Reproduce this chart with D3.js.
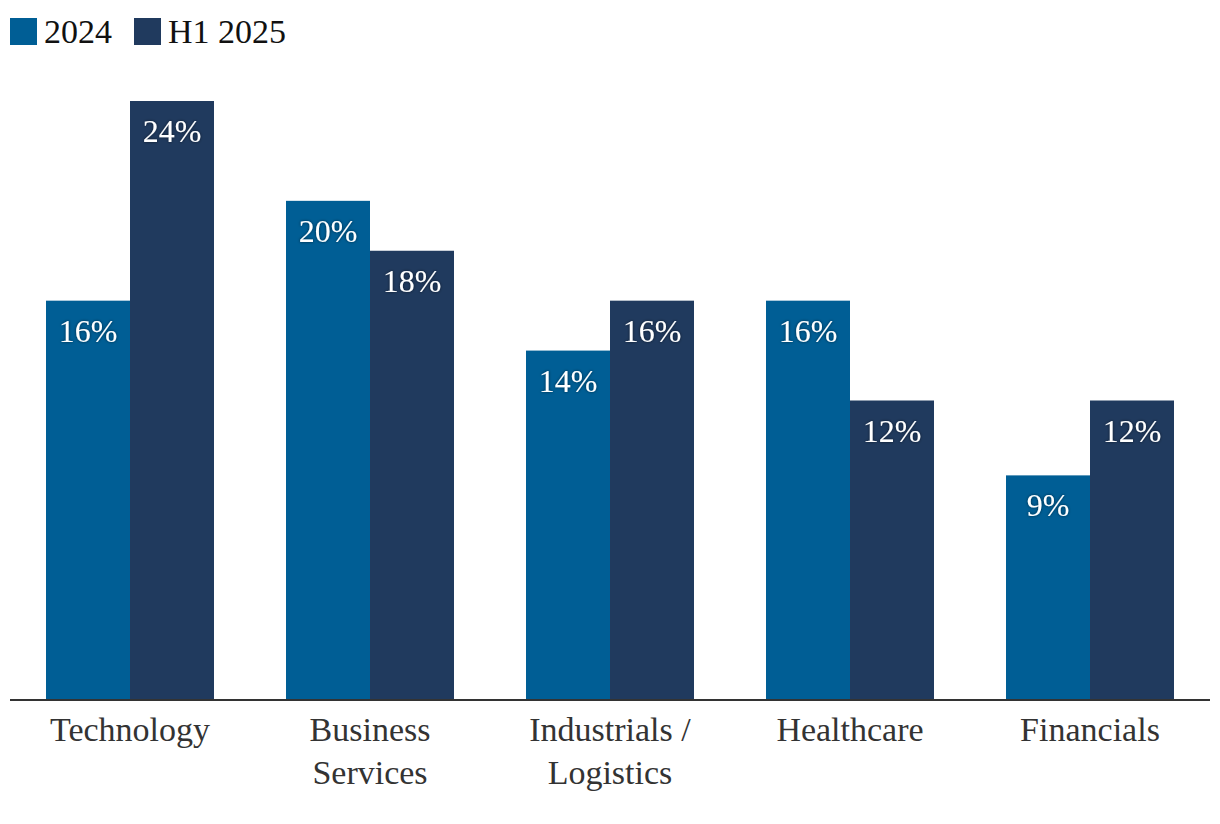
<html><head>
<script src="https://d3js.org/d3.v7.min.js" charset="utf-8"></script>
</head>
<body style="margin:0; background:white">
<div id="chart"></div>
<script>
// data
var categories = [["Technology"], ["Business", "Services"], ["Industrials /", "Logistics"], ["Healthcare"], ["Financials"]];
var seriesNames = ["2024", "H1 2025"];
var values2024 = [16, 20, 14, 16, 9];
var valuesH1 = [24, 18, 16, 12, 12];
var colors = ["#005e95", "#203a5e"];

var width = 1220, height = 824;
var font = "'Liberation Serif', 'Times New Roman', serif";
var svg = d3.select("#chart").append("svg")
  .attr("width", width)
  .attr("height", height);

var x0 = d3.scaleBand()
  .domain(d3.range(categories.length))
  .range([10, 1210])
  .paddingInner(0.3)
  .paddingOuter(0.15);

var x1 = d3.scaleBand()
  .domain([0, 1])
  .range([0, x0.bandwidth()]);

var y = d3.scaleLinear()
  .domain([0, 24])
  .range([700, 101]);

var series = [values2024, valuesH1];

// soft shadow behind the white value labels
var defs = svg.append("defs");
var f = defs.append("filter").attr("id", "shadow")
  .attr("x", "-20%").attr("y", "-20%").attr("width", "140%").attr("height", "140%");
f.append("feDropShadow")
  .attr("dx", 0).attr("dy", 0)
  .attr("stdDeviation", 1.5)
  .attr("flood-color", "#000")
  .attr("flood-opacity", 0.6);

// bars
series.forEach(function(vals, s) {
  var g = svg.append("g");
  g.selectAll("rect")
    .data(vals)
    .enter().append("rect")
    .attr("x", function(d, i) { return x0(i) + x1(s); })
    .attr("y", function(d) { return y(d); })
    .attr("width", x1.bandwidth())
    .attr("height", function(d) { return y(0) - y(d); })
    .attr("fill", colors[s]);
  g.selectAll("text")
    .data(vals)
    .enter().append("text")
    .attr("x", function(d, i) { return x0(i) + x1(s) + x1.bandwidth() / 2; })
    .attr("y", function(d) { return y(d) + 41; })
    .attr("text-anchor", "middle")
    .style("font-family", font)
    .style("font-size", "32px")
    .attr("fill", "white")
    .attr("filter", "url(#shadow)")
    .text(function(d) { return d + "%"; });
});

// baseline
svg.append("line")
  .attr("x1", 10).attr("x2", 1210)
  .attr("y1", y(0)).attr("y2", y(0))
  .style("stroke", "#333")
  .style("stroke-width", 2);

// category labels
var cats = svg.append("g").selectAll("text")
  .data(categories)
  .enter().append("text")
  .attr("x", function(d, i) { return x0(i) + x0.bandwidth() / 2; })
  .attr("y", 741)
  .attr("text-anchor", "middle")
  .style("font-family", font)
  .style("font-size", "34px")
  .attr("fill", "#333");
cats.selectAll("tspan")
  .data(function(d) { return d; })
  .enter().append("tspan")
  .attr("x", function() { return d3.select(this.parentNode).attr("x"); })
  .attr("dy", function(d, j) { return j == 0 ? 0 : 43; })
  .style("font-family", font)
  .text(function(d) { return d; });

// legend
var legX = [10, 134];
seriesNames.forEach(function(name, s) {
  svg.append("rect")
    .attr("x", legX[s]).attr("y", 18)
    .attr("width", 27).attr("height", 27)
    .attr("fill", colors[s]);
  svg.append("text")
    .attr("x", legX[s] + 34)
    .attr("y", 43)
    .style("font-family", font)
    .style("font-size", "34px")
    .attr("fill", "#111")
    .text(name);
});
</script>
</body></html>
